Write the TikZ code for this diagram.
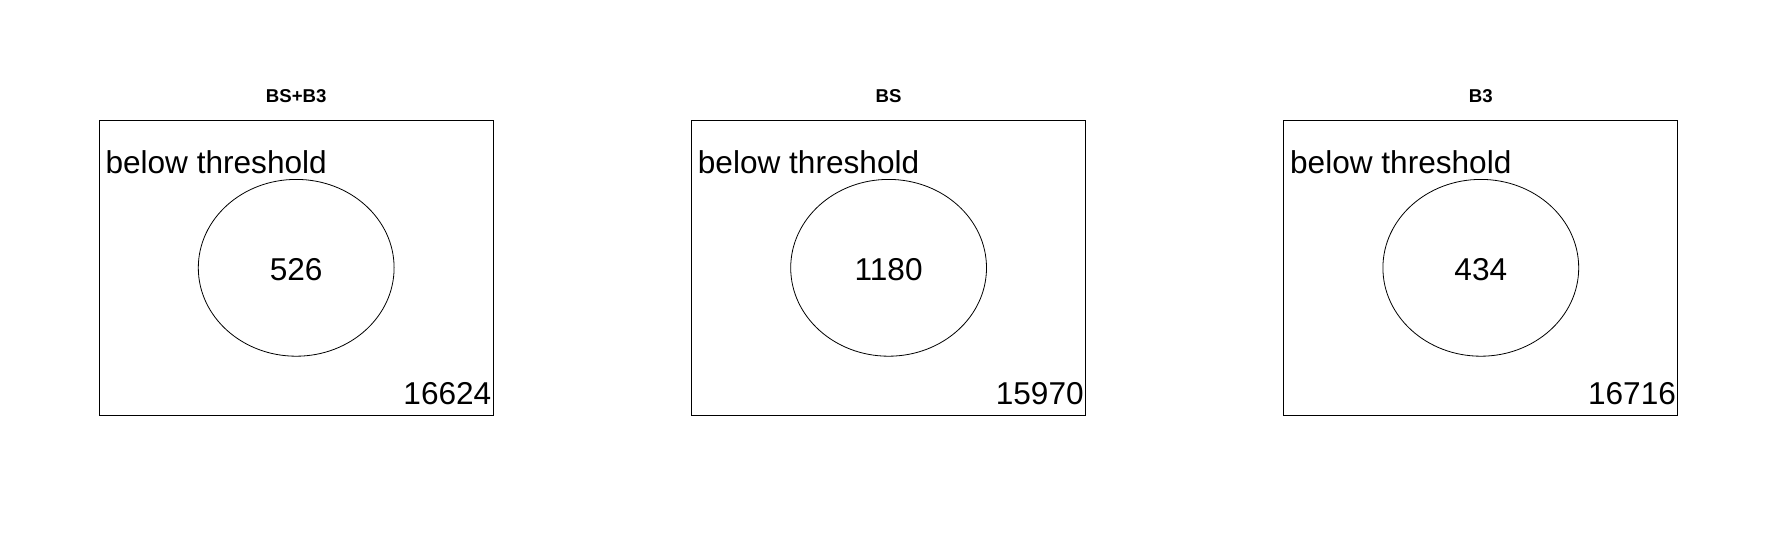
\documentclass[tikz,border=0pt]{standalone}
\usepackage{fontspec}
\setmainfont{Liberation Sans}
\usetikzlibrary{shapes.geometric}

\begin{document}
\begin{tikzpicture}[x=0.5pt,y=-0.5pt,
 panel/.style={draw,line width=0.5pt,minimum width=197pt,minimum height=147.5pt,inner sep=0pt},
 circ/.style={draw,ellipse,line width=0.4pt,minimum width=97.9pt,minimum height=88.4pt,inner sep=0pt,font=\fontsize{15.8}{18}\selectfont},
 ttl/.style={anchor=base,inner sep=0pt,font=\fontsize{9.3}{11}\selectfont\bfseries},
 lab/.style={anchor=base west,inner sep=0pt,font=\fontsize{15.8}{18}\selectfont},
 cnt/.style={anchor=base east,inner sep=0pt,font=\fontsize{15.8}{18}\selectfont}]
\useasboundingbox (0,0) rectangle (1777,536);
% BS+B3
\node[panel] (box1) at (296.2,267.5) {};
\node[circ] (set1) at (296.2,267.8) {\raisebox{-0.7pt}[\height][0pt]{526}};
\node[ttl] (ttl1) at ([yshift=8.65pt]box1.north) {BS+B3};
\node[lab] (lab1) at ([shift={(3.2pt,-26.9pt)}]box1.north west) {below threshold};
\node[cnt] (out1) at ([shift={(-1pt,5.4pt)}]box1.south east) {16624};
% BS
\node[panel] (box2) at (888.6,267.5) {};
\node[circ] (set2) at (888.6,267.8) {\raisebox{-0.7pt}[\height][0pt]{1180}};
\node[ttl] (ttl2) at ([yshift=8.65pt]box2.north) {BS};
\node[lab] (lab2) at ([shift={(3.2pt,-26.9pt)}]box2.north west) {below threshold};
\node[cnt] (out2) at ([shift={(-1pt,5.4pt)}]box2.south east) {15970};
% B3
\node[panel] (box3) at (1480.8,267.5) {};
\node[circ] (set3) at (1480.8,267.8) {\raisebox{-0.7pt}[\height][0pt]{434}};
\node[ttl] (ttl3) at ([yshift=8.65pt]box3.north) {B3};
\node[lab] (lab3) at ([shift={(3.2pt,-26.9pt)}]box3.north west) {below threshold};
\node[cnt] (out3) at ([shift={(-1pt,5.4pt)}]box3.south east) {16716};
\end{tikzpicture}
\end{document}
